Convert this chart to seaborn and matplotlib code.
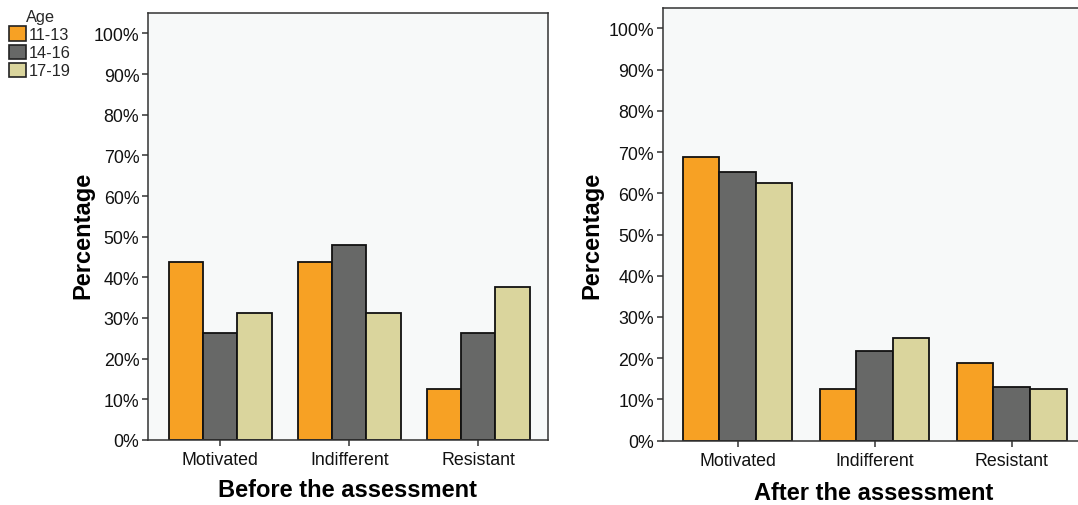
import numpy as np
import pandas as pd
import matplotlib
matplotlib.use("Agg")
import matplotlib.pyplot as plt
import matplotlib.patches as mpatches
import seaborn as sns

# ---------- data ----------
attitudes = ["Motivated", "Indifferent", "Resistant"]
ages = ["11-13", "14-16", "17-19"]

before_11_13 = [43.75, 43.75, 12.5]
before_14_16 = [26.3, 48.0, 26.3]
before_17_19 = [31.25, 31.25, 37.5]

after_11_13 = [68.75, 12.5, 18.75]
after_14_16 = [65.2, 21.7, 13.0]
after_17_19 = [62.5, 25.0, 12.5]

age_colors = ["#F7A124", "#676867", "#DAD59D"]
yticks = list(range(0, 101, 10))


def to_frame(a, b, c):
    rows = []
    for age, vals in zip(ages, [a, b, c]):
        for att, v in zip(attitudes, vals):
            rows.append({"Attitude": att, "Age": age, "Percentage": v})
    return pd.DataFrame(rows)


df_before = to_frame(before_11_13, before_14_16, before_17_19)
df_after = to_frame(after_11_13, after_14_16, after_17_19)

sns.set_style("ticks")
plt.rcParams["font.family"] = ["Liberation Sans", "DejaVu Sans"]

fig = plt.figure(figsize=(10.78, 5.06), dpi=100)
ax1 = fig.add_axes([0.1373, 0.1285, 0.371, 0.8438])
ax2 = fig.add_axes([0.615, 0.1271, 0.3915, 0.8557])

# axes, data, title, xlim, ylabel position, xlabel pad
panels = [
    (ax1, df_before, "Before the assessment", (-0.56, 2.54), (-0.1345, 0.481), 7),
    (ax2, df_after, "After the assessment", (-0.545, 2.535), (-0.142, 0.476), 9),
]

for ax, df, title, xlim, ylab_pos, xpad in panels:
    sns.barplot(data=df, x="Attitude", y="Percentage", hue="Age",
                order=attitudes, hue_order=ages, palette=age_colors,
                saturation=1, edgecolor="#111111", linewidth=1.3,
                width=0.8, legend=False, ax=ax)
    ax.set_facecolor("#F7F9F9")
    ax.set_ylim(0, 105)
    ax.set_xlim(*xlim)
    ax.set_yticks(yticks)
    ax.set_yticklabels([f"{t}%" for t in yticks])
    ax.set_ylabel("Percentage", fontsize=17, fontweight="bold", color="black")
    ax.yaxis.set_label_coords(*ylab_pos)
    ax.set_xlabel(title, fontsize=17, fontweight="bold", labelpad=xpad,
                  color="black")
    ax.tick_params(axis="both", labelsize=12.8, length=4.5, width=1.1,
                   color="#333333", labelcolor="#111111")
    ax.tick_params(axis="y", pad=1.8)
    for s in ax.spines.values():
        s.set_color("#333333")
        s.set_linewidth(1.1)

handles = [mpatches.Patch(facecolor=c, edgecolor="#222222", linewidth=1.2, label=a)
           for c, a in zip(age_colors, ages)]
fig.legend(handles=handles, title="Age", loc="upper left",
           bbox_to_anchor=(-0.002, 1.003), frameon=False, fontsize=11.8,
           title_fontsize=11.8, handlelength=1.0, handleheight=0.95,
           handletextpad=0.2, labelspacing=0.15, borderaxespad=0.3)

fig.savefig("out.png", dpi=100)
